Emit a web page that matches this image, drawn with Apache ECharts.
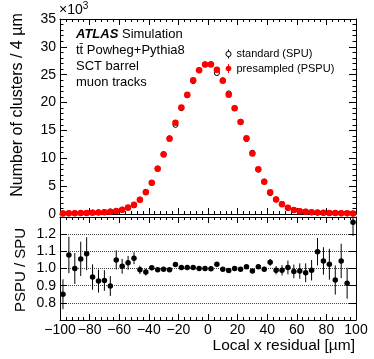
<!DOCTYPE html>
<html>
<head>
<meta charset="utf-8">
<script src="https://cdn.jsdelivr.net/npm/echarts@6/dist/echarts.min.js"></script>
<style>
  html, body { margin: 0; padding: 0; background: #fff; }
  #main { width: 374px; height: 359px; }
</style>
</head>
<body>
<div id="main"></div>
<script>
// bin centres of the 4 um bins
var binCenters = [-98, -94, -90, -86, -82, -78, -74, -70, -66, -62, -58, -54, -50, -46, -42, -38, -34, -30, -26, -22, -18, -14, -10, -6, -2,
                  2, 6, 10, 14, 18, 22, 26, 30, 34, 38, 42, 46, 50, 54, 58, 62, 66, 70, 74, 78, 82, 86, 90, 94, 98];

// number of clusters, presampled pile-up (red)
var pspuCounts = [100, 120, 140, 170, 200, 240, 280, 330, 400, 520, 780, 1150, 1640, 2550, 3900, 5600, 8100, 10700, 13500, 16400, 19100, 21400, 24000, 25800, 26850,
                  26850, 25900, 23900, 21400, 19000, 16500, 13600, 10850, 8050, 5800, 3900, 2600, 1760, 1100, 730, 500, 420, 320, 260, 230, 190, 160, 140, 120, 100];

// number of clusters, standard pile-up (open circles)
var spuCounts = [120, 110, 140, 160, 180, 250, 300, 350, 450, 500, 770, 1110, 1550, 2570, 3980, 5580, 8160, 10750, 13600, 16000, 19000, 21300, 23850, 25800, 26850,
                 26900, 25300, 24000, 21650, 19000, 16550, 13450, 11000, 7970, 5820, 3760, 2630, 1780, 1090, 740, 510, 430, 320, 240, 220, 185, 170, 135, 130, 80];

// PSPU / SPU ratio and its uncertainty
var ratioValues = [0.85, 1.079, 1.00, 1.056, 1.086, 0.95, 0.927, 0.93, 0.898, 1.05, 1.013, 1.033, 1.06, 0.992, 0.979, 1.004, 0.993, 0.995, 0.992, 1.023, 1.006, 1.006, 1.006, 1.0, 1.0,
                   0.998, 1.025, 0.995, 0.988, 1.0, 0.996, 1.01, 0.986, 1.01, 0.996, 1.036, 0.99, 0.99, 1.006, 0.983, 0.985, 0.975, 0.99, 1.098, 1.044, 1.025, 0.933, 1.044, 0.914, 1.27];
var ratioErrors = [0.087, 0.106, 0.09, 0.10, 0.096, 0.074, 0.067, 0.06, 0.058, 0.056, 0.043, 0.04, 0.035, 0.024, 0.02, 0.015, 0.012, 0.01, 0.009, 0.008, 0.007, 0.007, 0.006, 0.006, 0.006,
                   0.006, 0.006, 0.006, 0.007, 0.007, 0.008, 0.009, 0.01, 0.012, 0.015, 0.02, 0.024, 0.03, 0.04, 0.04, 0.045, 0.055, 0.06, 0.08, 0.08, 0.09, 0.085, 0.1, 0.09, 0.08];

var FONT = "'Liberation Sans', Arial, Helvetica, sans-serif";

var myChart = echarts.init(document.getElementById('main'));

function pairs(ys) {
    return binCenters.map(function (x, i) { return [x, ys[i]]; });
}
var ratioPts = pairs(ratioValues);
var ratioErr = binCenters.map(function (x, i) { return [x, ratioValues[i], ratioErrors[i]]; });

// common axis pieces (ROOT style: ticks on all four sides, pointing inwards)
function xAx(grid, pos, labels) {
    return {
        type: 'value', gridIndex: grid, position: pos,
        min: -100, max: 100, interval: 20,
        axisLine: { show: true, onZero: false, lineStyle: { color: '#000', width: 1 } },
        axisTick: { show: true, inside: true, length: 6, lineStyle: { color: '#000' } },
        minorTick: { show: true, splitNumber: 5, length: 3, lineStyle: { color: '#000' } },
        splitLine: { show: false },
        axisLabel: {
            show: labels, margin: 3, color: '#000', fontSize: 14, fontFamily: FONT,
            formatter: function (v) { return String(v).replace('-', '\u2212'); }
        }
    };
}

function yAx(grid, pos, min, max, step, minor, labels, fmt) {
    return {
        type: 'value', gridIndex: grid, position: pos,
        min: min, max: max, interval: step,
        axisLine: { show: true, onZero: false, lineStyle: { color: '#000' } },
        axisTick: { show: true, inside: true, length: 7, lineStyle: { color: '#000' } },
        minorTick: { show: minor, splitNumber: 5, length: 3.5, lineStyle: { color: '#000' } },
        splitLine: { show: false },
        axisLabel: { show: labels, margin: 4, color: '#000', fontSize: 14, fontFamily: FONT, formatter: fmt }
    };
}

var ratioY = yAx(1, 'left', 0.7, 1.3, 0.1, false, true, function (v) {
    if (v < 0.75 || v > 1.25) return '';
    return v.toFixed(1);
});
ratioY.splitLine = { show: true, lineStyle: { color: '#444', type: 'dotted', width: 1 } };

var option = {
    animation: false,
    backgroundColor: '#fff',
    grid: [
        { left: 60, top: 19, width: 296, height: 195 },
        { left: 60, top: 217, width: 296, height: 103 }
    ],
    xAxis: [
        xAx(0, 'bottom', false),
        xAx(0, 'top', false),
        xAx(1, 'bottom', true),
        xAx(1, 'top', false)
    ],
    yAxis: [
        yAx(0, 'left', 0, 35000, 5000, true, true, function (v) { return String(v / 1000); }),
        yAx(0, 'right', 0, 35000, 5000, true, false),
        ratioY,
        yAx(1, 'right', 0.7, 1.3, 0.1, false, false)
    ],
    series: [
        {
            name: 'standard (SPU)',
            type: 'scatter', xAxisIndex: 0, yAxisIndex: 0,
            symbol: 'circle', symbolSize: 5,
            itemStyle: { color: 'rgba(0,0,0,0)', borderColor: '#000', borderWidth: 1, opacity: 1 },
            data: pairs(spuCounts), z: 2
        },
        {
            name: 'presampled (PSPU)',
            type: 'scatter', xAxisIndex: 0, yAxisIndex: 0,
            symbol: 'circle', symbolSize: 6.5,
            itemStyle: { color: '#ff0000', opacity: 1 },
            data: pairs(pspuCounts), z: 3
        },
        {
            type: 'custom', xAxisIndex: 2, yAxisIndex: 2,
            clip: true,
            renderItem: function (params, api) {
                var x = api.value(0), y = api.value(1), e = api.value(2);
                var p1 = api.coord([x, y + e]);
                var p2 = api.coord([x, y - e]);
                var top = Math.max(p1[1], 217);
                return {
                    type: 'line',
                    shape: { x1: p1[0], y1: top, x2: p2[0], y2: p2[1] },
                    style: { stroke: '#000', lineWidth: 1 }
                };
            },
            data: ratioErr, z: 2
        },
        {
            type: 'scatter', xAxisIndex: 2, yAxisIndex: 2,
            symbol: 'circle', symbolSize: 5.5,
            itemStyle: { color: '#000', opacity: 1 },
            data: ratioPts, z: 3
        }
    ],
    graphic: [
        // x10^3 multiplier
        { type: 'text', left: 59, top: 1,
          style: { text: '\u00d710{s|3}', font: '14px ' + FONT, fill: '#000',
                   rich: { s: { fontSize: 10, fontFamily: FONT, verticalAlign: 'top', padding: [0, 0, 8, 0] } } } },
        // captions
        { type: 'text', x: 76, y: 34,
          style: { text: '{b|ATLAS} Simulation', font: '13px ' + FONT, fill: '#000', verticalAlign: 'middle',
                   rich: { b: { fontSize: 13, fontFamily: FONT, fontWeight: 'bold', fontStyle: 'italic' } } } },
        { type: 'text', x: 76, y: 50,
          style: { text: 'tt\u0304 Powheg+Pythia8', font: '13px ' + FONT, fill: '#000', verticalAlign: 'middle' } },
        { type: 'text', x: 76, y: 66.5,
          style: { text: 'SCT barrel', font: '13px ' + FONT, fill: '#000', verticalAlign: 'middle' } },
        { type: 'text', x: 76, y: 82.5,
          style: { text: 'muon tracks', font: '13px ' + FONT, fill: '#000', verticalAlign: 'middle' } },
        // legend
        { type: 'line', shape: { x1: 228.5, y1: 49.5, x2: 228.5, y2: 58.5 }, style: { stroke: '#000', lineWidth: 1 } },
        { type: 'circle', shape: { cx: 228.5, cy: 54, r: 2.6 }, style: { fill: '#fff', stroke: '#000', lineWidth: 1 } },
        { type: 'text', x: 236.5, y: 54,
          style: { text: 'standard (SPU)', font: '11px ' + FONT, fill: '#000', verticalAlign: 'middle' } },
        { type: 'line', shape: { x1: 228.5, y1: 64, x2: 228.5, y2: 73 }, style: { stroke: '#ff0000', lineWidth: 1 } },
        { type: 'circle', shape: { cx: 228.5, cy: 68.5, r: 2.8 }, style: { fill: '#ff0000' } },
        { type: 'text', x: 236.5, y: 68.5,
          style: { text: 'presampled (PSPU)', font: '11px ' + FONT, fill: '#000', verticalAlign: 'middle' } },
        // axis titles
        { type: 'text', x: 17.5, y: 105, rotation: Math.PI / 2,
          style: { text: 'Number of clusters / 4 \u00b5m', font: '16px ' + FONT, fill: '#000', align: 'center', verticalAlign: 'middle' } },
        { type: 'text', x: 21, y: 270, rotation: Math.PI / 2,
          style: { text: 'PSPU / SPU', font: '15px ' + FONT, fill: '#000', align: 'center', verticalAlign: 'middle' } },
        { type: 'text', x: 355, y: 346,
          style: { text: 'Local x residual [\u00b5m]', font: '15.5px ' + FONT, fill: '#000', align: 'right', verticalAlign: 'middle' } }
    ]
};

myChart.setOption(option);
window.addEventListener('resize', function () {
    myChart.resize();
});
</script>
</body>
</html>
